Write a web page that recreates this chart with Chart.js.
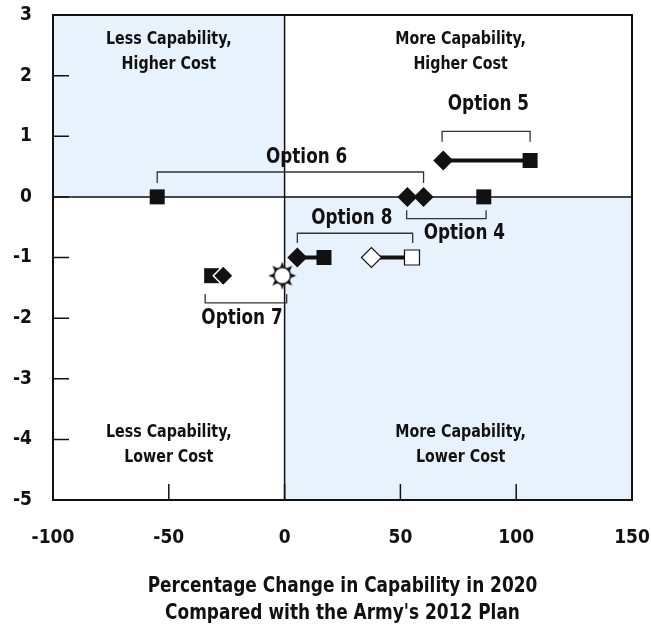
<!DOCTYPE html>
<html>
<head>
<meta charset="utf-8">
<script src="https://cdn.jsdelivr.net/npm/chart.js@4.4.0/dist/chart.umd.min.js"></script>
<style>
  html, body { margin: 0; padding: 0; background: #ffffff; }
  #wrap { width: 651px; height: 624px; position: relative; }
</style>
</head>
<body>
<div id="wrap"><canvas id="c" width="651" height="624"></canvas></div>
<script>
// ---- Data (x = % change in capability, y = change in cost) ----
const xTicks = [-100, -50, 0, 50, 100, 150];
const yTicks = [-5, -4, -3, -2, -1, 0, 1, 2, 3];

const opt5X = [68.5, 106];      // diamond, square (linked)
const opt5Y = [0.6, 0.6];
const opt8aX = [5.5, 17];       // black diamond, black square (linked)
const opt8aY = [-1, -1];
const opt8bX = [37.5, 55];      // white diamond, white square (linked)
const opt8bY = [-1, -1];
const opt6X = [-55, 60];        // square, diamond
const opt6Y = [0, 0];
const opt4X = [53, 86];         // diamond, square
const opt4Y = [0, 0];
const opt7X = [-31.5, -26.5];   // square, diamond
const opt7Y = [-1.3, -1.3];
const baseX = [-1];             // sunburst marker
const baseY = [-1.3];

const xTitle = ['Percentage Change in Capability in 2020', "Compared with the Army's 2012 Plan"];

// annotation brackets: label, x from, x to, bar y, end of side ticks y, label x, label y
const bracketLabels = ['Option 5', 'Option 6', 'Option 4', 'Option 8', 'Option 7'];
const bracketX1 = [68, -55, 52.7, 5.5, -34.3];
const bracketX2 = [106, 60, 87, 55.3, 0.9];
const bracketY = [1.08, 0.41, -0.36, -0.6, -1.75];
const bracketEndY = [0.91, 0.23, -0.22, -0.76, -1.6];
const bracketLabelX = [88, 9.5, 77.6, 29, -18.4];
const bracketLabelY = [1.52, 0.65, -0.6, -0.35, -2.0];

const quadLabels = [['Less Capability,', 'Higher Cost'], ['More Capability,', 'Higher Cost'],
                    ['Less Capability,', 'Lower Cost'], ['More Capability,', 'Lower Cost']];
const quadX = [-50, 76, -50, 76];
const quadY1 = [2.6, 2.6, -3.89, -3.89];
const quadY2 = [2.19, 2.19, -4.3, -4.3];

// ---- styling ----
const FONT = "'DejaVu Sans Condensed', 'DejaVu Sans', sans-serif";
const INK = '#111111';
const SHADE = '#e8f2fc';

function pts(xs, ys) { return xs.map((x, i) => ({ x: x, y: ys[i] })); }

function squeezeText(ctx, text, x, y, sx) {
  ctx.save();
  ctx.translate(x, y);
  ctx.scale(sx, 1);
  ctx.fillText(text, 0, 0);
  ctx.restore();
}

// sunburst marker
const sun = document.createElement('canvas');
sun.width = 30; sun.height = 30;
(function () {
  const g = sun.getContext('2d');
  const cx = 15, cy = 15, n = 8;
  g.fillStyle = INK;
  for (let i = 0; i < n; i++) {
    const a = (i / n) * Math.PI * 2 - Math.PI / 2;
    const w = 0.36;
    g.beginPath();
    g.moveTo(cx + Math.cos(a) * 14, cy + Math.sin(a) * 14);
    g.lineTo(cx + Math.cos(a - w) * 7.5, cy + Math.sin(a - w) * 7.5);
    g.lineTo(cx + Math.cos(a + w) * 7.5, cy + Math.sin(a + w) * 7.5);
    g.closePath();
    g.fill();
  }
  g.beginPath();
  g.arc(cx, cy, 8.3, 0, Math.PI * 2);
  g.fillStyle = '#ffffff';
  g.fill();
  g.lineWidth = 1.5;
  g.strokeStyle = INK;
  g.stroke();
})();

const DIA = 10, SQ = 10.6;

const datasets = [
  { data: pts(baseX, baseY), pointStyle: sun, pointRadius: 13, showLine: false },
  { data: pts(opt7X, opt7Y), pointStyle: ['rect', 'rectRot'], pointRadius: [SQ, DIA],
    pointBackgroundColor: INK, pointBorderColor: [INK, '#ffffff'], pointBorderWidth: [0, 1.5], showLine: false },
  { data: pts(opt6X, opt6Y), pointStyle: ['rect', 'rectRot'], pointRadius: [SQ, DIA],
    pointBackgroundColor: INK, pointBorderColor: INK, pointBorderWidth: 0, showLine: false },
  { data: pts(opt4X, opt4Y), pointStyle: ['rectRot', 'rect'], pointRadius: [DIA, SQ],
    pointBackgroundColor: INK, pointBorderColor: INK, pointBorderWidth: 0, showLine: false },
  { data: pts(opt5X, opt5Y), pointStyle: ['rectRot', 'rect'], pointRadius: [DIA, SQ],
    pointBackgroundColor: INK, pointBorderColor: INK, pointBorderWidth: 0,
    showLine: true, borderColor: INK, borderWidth: 4 },
  { data: pts(opt8aX, opt8aY), pointStyle: ['rectRot', 'rect'], pointRadius: [DIA, SQ],
    pointBackgroundColor: INK, pointBorderColor: INK, pointBorderWidth: 0,
    showLine: true, borderColor: INK, borderWidth: 4 },
  { data: pts(opt8bX, opt8bY), pointStyle: ['rectRot', 'rect'], pointRadius: [DIA, SQ],
    pointBackgroundColor: '#ffffff', pointBorderColor: INK, pointBorderWidth: 1.2,
    showLine: true, borderColor: INK, borderWidth: 4 }
];

const decor = {
  id: 'decor',
  beforeDatasetsDraw(chart) {
    const { ctx, chartArea: a, scales: { x, y } } = chart;
    const x0 = x.getPixelForValue(0), y0 = y.getPixelForValue(0);
    ctx.save();
    ctx.fillStyle = SHADE;
    ctx.fillRect(a.left, a.top, x0 - a.left, y0 - a.top);
    ctx.fillRect(x0, y0, a.right - x0, a.bottom - y0);
    ctx.strokeStyle = INK;
    ctx.lineWidth = 1.5;
    ctx.beginPath();
    yTicks.forEach(v => { const p = y.getPixelForValue(v); ctx.moveTo(a.left, p); ctx.lineTo(a.left + 16, p); });
    xTicks.forEach(v => { const p = x.getPixelForValue(v); ctx.moveTo(p, a.bottom); ctx.lineTo(p, a.bottom - 16); });
    ctx.stroke();
    ctx.beginPath();
    ctx.moveTo(x0, a.top); ctx.lineTo(x0, a.bottom);
    ctx.moveTo(a.left, y0); ctx.lineTo(a.right, y0);
    ctx.stroke();
    ctx.lineWidth = 2;
    ctx.strokeRect(a.left, a.top, a.right - a.left, a.bottom - a.top);

    ctx.fillStyle = INK;
    ctx.textAlign = 'center';
    ctx.textBaseline = 'middle';
    ctx.font = "bold 18px " + FONT;
    quadLabels.forEach((l, i) => {
      const px = x.getPixelForValue(quadX[i]);
      squeezeText(ctx, l[0], px, y.getPixelForValue(quadY1[i]), 0.88);
      squeezeText(ctx, l[1], px, y.getPixelForValue(quadY2[i]), 0.88);
    });
    ctx.strokeStyle = '#333333';
    ctx.lineWidth = 1.3;
    bracketLabels.forEach((l, i) => {
      const xa = x.getPixelForValue(bracketX1[i]), xb = x.getPixelForValue(bracketX2[i]);
      const yb = y.getPixelForValue(bracketY[i]), ye = y.getPixelForValue(bracketEndY[i]);
      ctx.beginPath();
      ctx.moveTo(xa, ye); ctx.lineTo(xa, yb); ctx.lineTo(xb, yb); ctx.lineTo(xb, ye);
      ctx.stroke();
    });
    ctx.font = "bold 22px " + FONT;
    bracketLabels.forEach((l, i) => {
      squeezeText(ctx, l, x.getPixelForValue(bracketLabelX[i]), y.getPixelForValue(bracketLabelY[i]), 0.85);
    });
    // x axis title (two centered lines below the tick labels)
    ctx.font = "bold 20.5px " + FONT;
    const cx = (a.left + a.right) / 2;
    squeezeText(ctx, xTitle[0], cx, chart.height - 37, 0.92);
    squeezeText(ctx, xTitle[1], cx, chart.height - 10.5, 0.92);
    ctx.restore();
  }
};

new Chart(document.getElementById('c'), {
  type: 'scatter',
  data: { datasets: datasets },
  plugins: [decor],
  options: {
    responsive: false,
    animation: false,
    events: [],
    layout: { padding: { top: 15, right: 19, left: 0, bottom: 0 } },
    plugins: { legend: { display: false }, tooltip: { enabled: false } },
    scales: {
      x: {
        type: 'linear', min: -100, max: 150,
        afterBuildTicks: s => { s.ticks = xTicks.map(v => ({ value: v })); },
        afterFit: s => { s.height = 124; s.paddingLeft = 0; s.paddingRight = 0; },
        grid: { display: false, drawTicks: false },
        border: { display: false },
        ticks: { color: INK, font: { family: FONT, size: 19, weight: 'bold' }, padding: 27, maxRotation: 0 }
      },
      y: {
        type: 'linear', min: -5, max: 3,
        afterBuildTicks: s => { s.ticks = yTicks.map(v => ({ value: v })); },
        afterFit: s => { s.width = 53; s.paddingTop = 0; s.paddingBottom = 0; },
        grid: { display: false, drawTicks: false },
        border: { display: false },
        ticks: { color: INK, font: { family: FONT, size: 19, weight: 'bold' }, padding: 21 }
      }
    }
  }
});
</script>
</body>
</html>
